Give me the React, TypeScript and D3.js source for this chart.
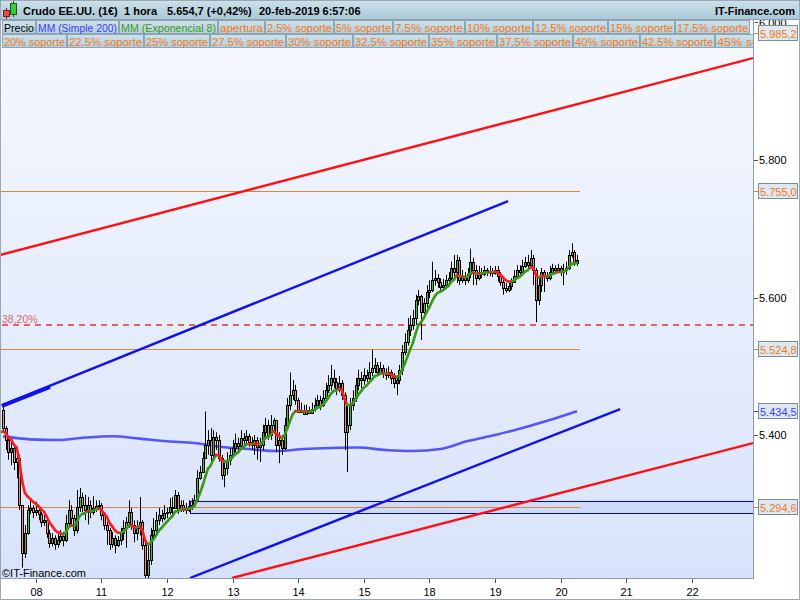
import React from "react";
import * as d3 from "d3";

// ---------- DATA (hourly candles, price in the chart's units) ----------
const closes = [
  5410, 5393, 5375, 5381, 5361, 5367, 5298, 5228, 5257, 5291,
  5294, 5288, 5291, 5285, 5274, 5276, 5257, 5243, 5250, 5241,
  5247, 5253, 5247, 5272, 5291, 5279, 5262, 5295, 5310, 5298,
  5291, 5298, 5288, 5294, 5297, 5298, 5284, 5269, 5262, 5241,
  5250, 5240, 5247, 5257, 5265, 5274, 5288, 5269, 5257, 5265,
  5274, 5240, 5196, 5218, 5255, 5262, 5276, 5284, 5279, 5287,
  5288, 5295, 5294, 5313, 5291, 5298, 5294, 5291, 5297, 5298,
  5305, 5337, 5346, 5367, 5385, 5393, 5371, 5397, 5393, 5367,
  5342, 5352, 5364, 5371, 5381, 5388, 5384, 5396, 5393, 5399,
  5390, 5385, 5393, 5383, 5385, 5404, 5415, 5400, 5415, 5422,
  5385, 5393, 5381, 5415, 5444, 5458, 5465, 5451, 5434, 5436,
  5431, 5436, 5432, 5438, 5444, 5451, 5444, 5454, 5465, 5473,
  5483, 5477, 5468, 5476, 5458, 5404, 5415, 5444, 5454, 5473,
  5483, 5480, 5487, 5483, 5492, 5497, 5502, 5492, 5497, 5492,
  5487, 5492, 5483, 5476, 5480, 5495, 5521, 5535, 5553, 5560,
  5570, 5596, 5602, 5579, 5592, 5608, 5611, 5625, 5628, 5623,
  5615, 5618, 5625, 5628, 5643, 5637, 5655, 5625, 5631, 5625,
  5634, 5652, 5640, 5628, 5637, 5634, 5640, 5637, 5639, 5636,
  5640, 5631, 5623, 5614, 5611, 5617, 5623, 5631, 5640, 5637,
  5646, 5652, 5647, 5658, 5640, 5596, 5618, 5637, 5631, 5628,
  5637, 5643, 5640, 5643, 5637, 5640, 5643, 5662, 5666, 5650, 5654.7,
];
const highs = [
  5443, 5413, 5399, 5393, 5387, 5378, 5371, 5298, 5269, 5298,
  5308, 5298, 5303, 5295, 5288, 5284, 5279, 5262, 5257, 5254,
  5256, 5262, 5259, 5284, 5305, 5298, 5284, 5320, 5323, 5316,
  5313, 5310, 5305, 5311, 5305, 5305, 5301, 5287, 5274, 5265,
  5259, 5254, 5253, 5265, 5276, 5281, 5305, 5294, 5276, 5276,
  5310, 5276, 5244, 5240, 5265, 5279, 5288, 5294, 5291, 5298,
  5294, 5308, 5310, 5320, 5317, 5305, 5305, 5301, 5305, 5308,
  5313, 5349, 5355, 5375, 5434, 5407, 5410, 5407, 5404, 5400,
  5371, 5364, 5375, 5381, 5393, 5402, 5396, 5407, 5403, 5407,
  5402, 5397, 5400, 5397, 5396, 5415, 5425, 5422, 5429, 5425,
  5422, 5404, 5400, 5425, 5454, 5491, 5480, 5473, 5454, 5447,
  5444, 5444, 5441, 5447, 5454, 5458, 5457, 5465, 5476, 5487,
  5502, 5495, 5483, 5486, 5480, 5462, 5444, 5454, 5465, 5483,
  5495, 5492, 5497, 5495, 5506, 5524, 5512, 5506, 5506, 5502,
  5497, 5500, 5495, 5490, 5487, 5502, 5531, 5548, 5570, 5574,
  5582, 5604, 5611, 5604, 5599, 5618, 5625, 5652, 5640, 5634,
  5628, 5627, 5633, 5637, 5652, 5662, 5662, 5659, 5640, 5637,
  5643, 5671, 5658, 5647, 5646, 5643, 5646, 5643, 5646, 5643,
  5646, 5646, 5637, 5628, 5621, 5623, 5628, 5640, 5647, 5647,
  5655, 5659, 5662, 5669, 5662, 5643, 5628, 5643, 5640, 5637,
  5646, 5649, 5647, 5649, 5646, 5649, 5652, 5669, 5679, 5669, 5662,
];
const lows = [
  5404, 5378, 5364, 5356, 5349, 5337, 5291, 5207, 5221, 5255,
  5285, 5279, 5282, 5276, 5266, 5268, 5250, 5236, 5238, 5233,
  5236, 5243, 5238, 5244, 5266, 5269, 5253, 5257, 5288, 5288,
  5276, 5270, 5279, 5284, 5288, 5291, 5276, 5262, 5240, 5233,
  5236, 5228, 5237, 5240, 5247, 5236, 5265, 5262, 5244, 5247,
  5254, 5233, 5186, 5186, 5211, 5247, 5254, 5269, 5273, 5276,
  5279, 5284, 5281, 5298, 5285, 5288, 5288, 5285, 5288, 5291,
  5295, 5302, 5335, 5346, 5369, 5371, 5361, 5364, 5378, 5361,
  5335, 5324, 5342, 5356, 5367, 5375, 5378, 5381, 5384, 5388,
  5383, 5378, 5371, 5364, 5361, 5378, 5393, 5393, 5393, 5404,
  5375, 5359, 5371, 5378, 5410, 5436, 5451, 5444, 5432, 5433,
  5432, 5434, 5432, 5434, 5434, 5441, 5436, 5441, 5448, 5461,
  5465, 5468, 5458, 5462, 5451, 5378, 5346, 5407, 5436, 5448,
  5465, 5468, 5473, 5477, 5480, 5486, 5490, 5486, 5487, 5483,
  5480, 5483, 5474, 5468, 5458, 5474, 5487, 5516, 5530, 5544,
  5553, 5560, 5589, 5538, 5570, 5585, 5599, 5608, 5617, 5614,
  5608, 5611, 5618, 5620, 5625, 5628, 5621, 5618, 5621, 5618,
  5621, 5628, 5618, 5618, 5625, 5628, 5631, 5631, 5631, 5630,
  5633, 5623, 5617, 5604, 5607, 5608, 5611, 5623, 5628, 5631,
  5634, 5643, 5640, 5647, 5618, 5564, 5589, 5608, 5608, 5623,
  5625, 5633, 5634, 5637, 5631, 5618, 5633, 5640, 5658, 5646, 5646,
];
const firstOpen = 5436;
const emaSeed = 5404;
const emaPeriod = 8;

// MM (Simple 200) read at every 10th candle
const smaIdx = [0, 10, 20, 30, 40, 50, 60, 70, 80, 90, 100, 110, 120, 130, 140, 150, 160, 170, 180, 190, 200, 210];
const smaVals = [5398, 5393.7, 5392.7, 5396.3, 5398.2, 5394.7, 5390.8, 5388.3, 5382.5, 5379.6, 5376.7, 5379.6, 5381.1, 5381.8, 5378.2, 5376.7, 5379.6, 5391.2, 5400, 5410.2, 5421.8, 5434.5];

const dayTickIdx = [12, 36, 60, 84, 108, 132, 156, 180, 204, 228, 252];
const dayTickLabels = ["08", "11", "12", "13", "14", "15", "18", "19", "20", "21", "22"];
const priceTicks = [5400, 5600, 5800, 6000];

const levelValues = [5755.0, 5524.8, 5294.6];
const levelEndIdx = 211.1;
const fiboValue = 5560;
const fiboLabel = "38,20%";
const boxValues = [5304.0, 5286.5];
const boxStartIdx = 68.4;

const axisBoxValues = [5985.2, 5755.0, 5524.8, 5434.5, 5294.6];
const axisBoxKinds = ["o", "o", "o", "b", "o"];

// trend lines: [idx1, price1, idx2, price2]
const redLines = [
  [-1.1, 5661.8, 274.4, 5948.3],
  [83.8, 5192, 274.4, 5388.3],
];
const blueLines = [
  [-0.4, 5443.6, 184.8, 5740.3],
  [68.4, 5192, 225.8, 5437.8],
];
const blueThick = [-0.4, 5442.2, 17.2, 5469.8];

const legendRow1 = ["Precio", "MM (Simple 200)", "MM (Exponencial 8)", "apertura", "2.5% soporte", "5% soporte", "7.5% soporte", "10% soporte", "12.5% soporte", "15% soporte", "17.5% soporte"];
const legendRow1Kinds = ["k", "b", "g", "o", "o", "o", "o", "o", "o", "o", "o"];
const legendRow2 = ["20% soporte", "22.5% soporte", "25% soporte", "27.5% soporte", "30% soporte", "32.5% soporte", "35% soporte", "37.5% soporte", "40% soporte", "42.5% soporte", "45% soporte"];

// ---------- LAYOUT / STYLE ----------
const row1Edges = [2, 36, 119, 218, 265, 334, 393, 465, 533, 608, 675, 750];
const row2Edges = [2, 67, 144, 210, 286, 353, 429, 497, 573, 640, 715, 790];
const FONT = '"Liberation Sans", Arial, Helvetica, sans-serif';
const ORANGE = "#f27a1e";
const BLUE_T = "#3d3dff";
const GREEN_T = "#3a9a1a";
const kindColor: Record<string, string> = { k: "#000", b: BLUE_T, g: GREEN_T, o: ORANGE };

const loc = d3.formatLocale({ decimal: ",", thousands: ".", grouping: [3], currency: ["", ""] });
const fmt0 = loc.format(",.0f");
const fmt1 = loc.format(",.1f");

export default function App() {
  const PL = 1, PT = 19, PR = 753, PB = 578;
  const x = d3.scaleLinear().domain([0, 210]).range([3, 577]);
  const y = d3.scaleLinear().domain([5192, 6008]).range([578, 17]);

  const candles = closes.map((c, i) => {
    const o = i === 0 ? firstOpen : closes[i - 1];
    return { i, o, c, h: Math.max(highs[i], o, c), l: Math.min(lows[i], o, c) };
  });

  const k = 2 / (emaPeriod + 1);
  const ema: [number, number][] = [[-1, emaSeed]];
  let e = emaSeed;
  closes.forEach((c, i) => {
    e = e + k * (c - e);
    ema.push([i, e]);
  });

  const smaPath = d3
    .line<number>()
    .x((_, j) => x(smaIdx[j]))
    .y((d) => y(d))
    .curve(d3.curveMonotoneX)(smaVals);

  const row1 = legendRow1.map((t, j) => ({ t, x: row1Edges[j], w: row1Edges[j + 1] - row1Edges[j] - 1 }));
  const row2 = legendRow2.map((t, j) => ({ t, x: row2Edges[j], w: row2Edges[j + 1] - row2Edges[j] - 1 }));

  return (
    <svg width={800} height={600} style={{ position: "absolute", left: 0, top: 0, background: "#fff" }} fontFamily={FONT}>
      <defs>
        <linearGradient id="bg" x1="0" y1="0" x2="0" y2="1">
          <stop offset="0" stopColor="#f5f8fe" />
          <stop offset="1" stopColor="#d8e3fb" />
        </linearGradient>
        <linearGradient id="hdr" x1="0" y1="0" x2="0" y2="1">
          <stop offset="0" stopColor="#cde1ea" />
          <stop offset="1" stopColor="#a9c7d6" />
        </linearGradient>
        <linearGradient id="btn" x1="0" y1="0" x2="0" y2="1">
          <stop offset="0" stopColor="#cfe1e9" />
          <stop offset="1" stopColor="#b4cedb" />
        </linearGradient>
        <clipPath id="plot">
          <rect x={PL} y={PT} width={PR - PL} height={PB - PT} />
        </clipPath>
        <clipPath id="legclip">
          <rect x={0} y={0} width={PR} height={60} />
        </clipPath>
        <clipPath id="sixk">
          <rect x={755} y={20} width={45} height={5} />
        </clipPath>
      </defs>

      {/* plot background */}
      <rect x={PL} y={PT} width={PR - PL} height={PB - PT} fill="url(#bg)" />

      <g clipPath="url(#plot)">
        {/* blue box */}
        <rect
          x={x(boxStartIdx) + 0.5}
          y={Math.round(y(boxValues[0])) + 0.5}
          width={PR - x(boxStartIdx) + 10}
          height={Math.round(y(boxValues[1])) - Math.round(y(boxValues[0]))}
          fill="#cddbf8"
          stroke="#0000cc"
          strokeWidth={1}
        />
        {/* horizontal level lines */}
        {levelValues.map((v, j) => (
          <line key={j} x1={0} x2={x(levelEndIdx)} y1={Math.round(y(v)) + 0.5} y2={Math.round(y(v)) + 0.5} stroke="#e0873a" strokeWidth={1} />
        ))}
        {/* fibo dashed */}
        <line x1={2} x2={PR} y1={y(fiboValue)} y2={y(fiboValue)} stroke="#e06464" strokeWidth={2} strokeDasharray="6,5" />
        <text x={2} y={y(fiboValue) - 2} fontSize={10.5} fill="#e06464">{fiboLabel}</text>

        {/* SMA 200 */}
        <path d={smaPath || ""} fill="none" stroke="#4646f6" strokeWidth={2.6} strokeOpacity={0.9} />

        {/* candles */}
        {candles.map((d) => {
          const cx = Math.round(x(d.i));
          const up = d.c >= d.o;
          const yt = Math.round(y(Math.max(d.o, d.c)));
          const yb = Math.round(y(Math.min(d.o, d.c)));
          return (
            <g key={d.i}>
              <line x1={cx + 0.5} x2={cx + 0.5} y1={y(d.h)} y2={y(d.l)} stroke="#000" strokeWidth={1} />
              <rect x={cx - 0.5} y={yt + 0.5} width={2} height={Math.max(1, yb - yt)} fill={up ? "#3fc23f" : "#f08a8a"} stroke="#000" strokeWidth={1} />
            </g>
          );
        })}

        {/* EMA 8 */}
        {ema.slice(1).map((p, j) => {
          const prev = ema[j];
          return (
            <line
              key={j}
              x1={x(prev[0])}
              y1={y(prev[1])}
              x2={x(p[0])}
              y2={y(p[1])}
              stroke={p[1] >= prev[1] ? "#3a9a18" : "#ff1c1c"}
              strokeWidth={2.6}
              strokeLinecap="round"
            />
          );
        })}

        {/* trend lines */}
        {redLines.map((l, j) => (
          <line key={"r" + j} x1={x(l[0])} y1={y(l[1])} x2={x(l[2])} y2={y(l[3])} stroke="#ff1010" strokeWidth={2.4} />
        ))}
        {blueLines.map((l, j) => (
          <line key={"b" + j} x1={x(l[0])} y1={y(l[1])} x2={x(l[2])} y2={y(l[3])} stroke="#1010f0" strokeWidth={2.4} />
        ))}
        <line x1={x(blueThick[0])} y1={y(blueThick[1])} x2={x(blueThick[2])} y2={y(blueThick[3])} stroke="#1010f0" strokeWidth={4} />

        <text x={2} y={577} fontSize={11} fill="#000">©IT-Finance.com</text>
      </g>

      {/* plot frame */}
      <line x1={0.5} x2={0.5} y1={PT} y2={PB} stroke="#8a9eb0" />
      <line x1={PR + 0.5} x2={PR + 0.5} y1={PT} y2={PB + 1} stroke="#8a9eb0" />
      <line x1={0} x2={PR + 1} y1={PB + 0.5} y2={PB + 0.5} stroke="#8a9eb0" />

      {/* x axis */}
      {dayTickIdx.map((t, j) => {
        const tx = Math.round(x(t)) + 0.5;
        return (
          <g key={t}>
            <line x1={tx} x2={tx} y1={PB + 1} y2={PB + 5} stroke="#555" />
            <text x={tx} y={596} fontSize={11} textAnchor="middle" fill="#000">{dayTickLabels[j]}</text>
          </g>
        );
      })}

      {/* y axis ticks */}
      {priceTicks.map((v) => (
        <g key={v} clipPath={v === 6000 ? "url(#sixk)" : undefined}>
          <line x1={PR + 1} x2={PR + 5} y1={Math.round(y(v)) + 0.5} y2={Math.round(y(v)) + 0.5} stroke="#555" />
          <text x={759} y={y(v) + 4} fontSize={11} fill="#000">{fmt0(v)}</text>
        </g>
      ))}

      {/* header */}
      <rect x={0} y={0} width={800} height={20} fill="url(#hdr)" />
      <line x1={0} x2={800} y1={19.5} y2={19.5} stroke="#8aa2b2" />
      <line x1={6.5} x2={6.5} y1={8} y2={19} stroke="#6a1a1a" />
      <rect x={3.5} y={10.5} width={6} height={6} fill="#e84848" stroke="#7a2020" />
      <line x1={13.5} x2={13.5} y1={1} y2={17} stroke="#1a5a1a" />
      <rect x={10.5} y={3.5} width={6} height={11} fill="#3cc83c" stroke="#1a5a1a" />
      <g fontSize={11} fontWeight="bold" fill="#000">
        <text x={23} y={15}>Crudo EE.UU. (1€)</text>
        <text x={124} y={15}>1 hora</text>
        <text x={167} y={15}>5.654,7 (+0,42%)</text>
        <text x={259} y={15}>20-feb-2019 6:57:06</text>
        <text x={795} y={15} textAnchor="end">IT-Finance.com</text>
      </g>

      {/* legend buttons */}
      <g clipPath="url(#legclip)" fontSize={11}>
        {row1.map((b, j) => (
          <g key={"l1" + j}>
            <rect x={b.x + 0.5} y={20.5} width={b.w} height={13} fill="url(#btn)" stroke="#8ea6b4" />
            <text x={b.x + 2} y={31.5} fill={kindColor[legendRow1Kinds[j]]} textLength={b.w - 3} lengthAdjust="spacingAndGlyphs">{b.t}</text>
          </g>
        ))}
        {row2.map((b, j) => (
          <g key={"l2" + j}>
            <rect x={b.x + 0.5} y={34.5} width={b.w} height={13} fill="url(#btn)" stroke="#8ea6b4" />
            <text x={b.x + 2} y={45.5} fill={ORANGE} textLength={b.w - 3} lengthAdjust="spacingAndGlyphs">{b.t}</text>
          </g>
        ))}
      </g>

      {/* axis value boxes */}
      {axisBoxValues.map((v, j) => {
        const yy = Math.round(y(v));
        const col = axisBoxKinds[j] === "b" ? BLUE_T : ORANGE;
        return (
          <g key={"ab" + j}>
            <line x1={PR + 1} x2={759} y1={yy + 0.5} y2={yy + 0.5} stroke={col} />
            <rect x={758.5} y={yy - 7.5} width={39} height={15} fill="#dfe7ef" stroke="#7b8e9c" />
            <text x={760} y={yy + 4.5} fontSize={11} fill={col}>{fmt1(v)}</text>
          </g>
        );
      })}

      <rect x={0.5} y={0.5} width={799} height={599} fill="none" stroke="#9aa8b4" />
    </svg>
  );
}
